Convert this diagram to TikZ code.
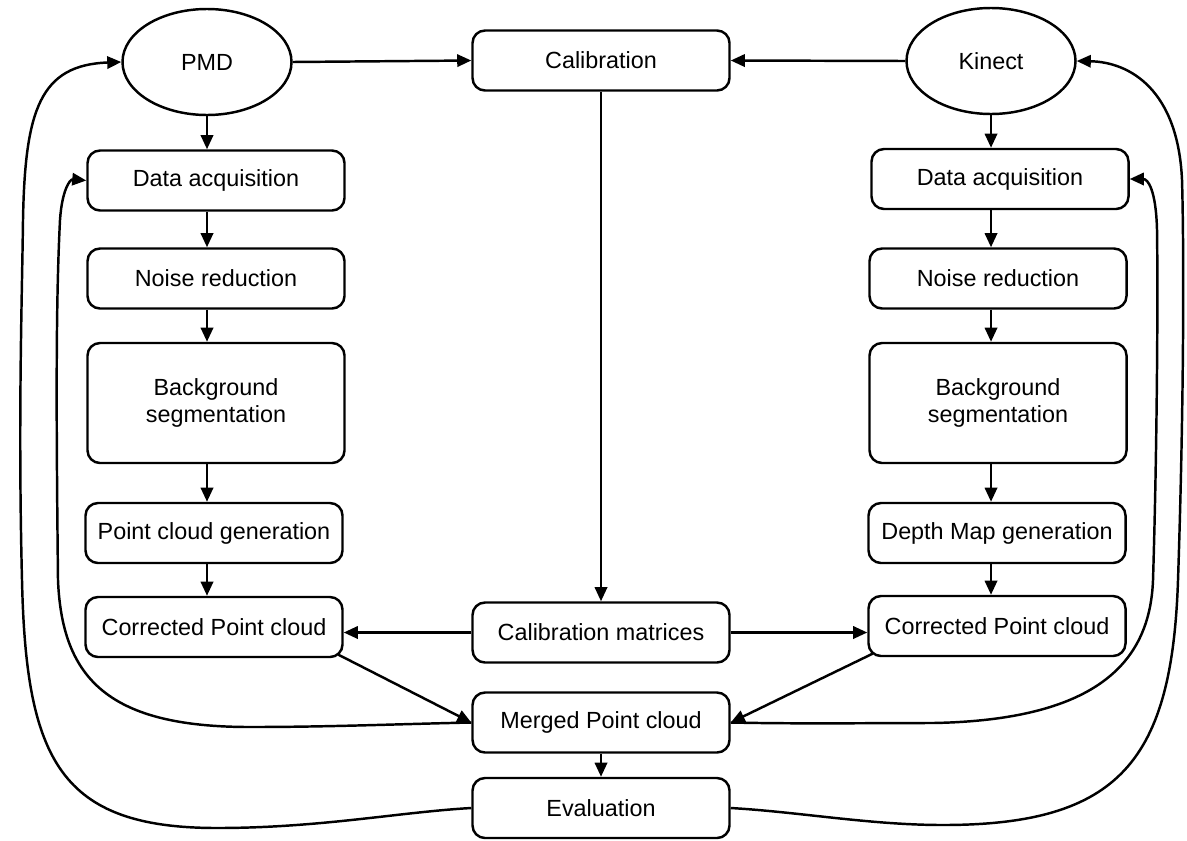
\documentclass[tikz,border=0pt]{standalone}
\usepackage{fontspec}
\setmainfont{Liberation Sans}
\usetikzlibrary{arrows.meta, calc, positioning, shapes.geometric}

\begin{document}
\begin{tikzpicture}[>={Triangle[length=8pt,width=7pt]},
    line width=1.4pt,
    every node/.style={font=\fontsize{13.3}{15.5}\selectfont},
    stage/.style={draw, rounded corners=0.25cm, minimum width=5.14cm, minimum height=1.2cm, align=center},
    tallstage/.style={stage, minimum height=2.4cm},
    sensor/.style={draw, ellipse, minimum width=3.38cm, minimum height=2.12cm}]
    \useasboundingbox (0,0) rectangle (23.74,-16.8);

    \node[sensor] (pmd) at (4.14,-1.24) {PMD};
    \node[sensor] (kinect) at (19.82,-1.22) {Kinect};
    \node[stage] (calib) at (12.02,-1.21) {Calibration};

    \node[stage] (daqL) at (4.32,-3.61) {Data acquisition};
    \node[stage] (nrL) at (4.32,-5.57) {Noise reduction};
    \node[tallstage] (bgL) at (4.32,-8.06) {Background\\segmentation};
    \node[stage] (genL) at (4.28,-10.66) {Point cloud generation};
    \node[stage] (corrL) at (4.28,-12.54) {Corrected Point cloud};

    \node[stage] (daqR) at (20,-3.58) {Data acquisition};
    \node[stage] (nrR) at (19.96,-5.57) {Noise reduction};
    \node[tallstage] (bgR) at (19.96,-8.06) {Background\\segmentation};
    \node[stage] (genR) at (19.94,-10.66) {Depth Map generation};
    \node[stage] (corrR) at (19.94,-12.52) {Corrected Point cloud};

    \node[stage] (calmat) at (12.02,-12.65) {Calibration matrices};
    \node[stage] (merged) at (12.02,-14.45) {Merged Point cloud};
    \node[stage] (eval) at (12.02,-16.16) {Evaluation};

    \draw[->] (pmd.east) -- (calib.west);
    \draw[->] (kinect.west) -- (calib.east);
    \draw[->] (calib) -- (calmat);
    \draw[->] (calmat.west) -- (calmat.west -| corrL.east);
    \draw[->] (calmat.east) -- (calmat.east -| corrR.west);

    \draw[->] (pmd.south) -- (daqL.north -| pmd);
    \draw[->] (daqL.south -| pmd) -- (nrL.north -| pmd);
    \draw[->] (nrL.south -| pmd) -- (bgL.north -| pmd);
    \draw[->] (bgL.south -| pmd) -- (genL.north -| pmd);
    \draw[->] (genL.south -| pmd) -- (corrL.north -| pmd);

    \draw[->] (kinect.south) -- (daqR.north -| kinect);
    \draw[->] (daqR.south -| kinect) -- (nrR.north -| kinect);
    \draw[->] (nrR.south -| kinect) -- (bgR.north -| kinect);
    \draw[->] (bgR.south -| kinect) -- (genR.north -| kinect);
    \draw[->] (genR.south -| kinect) -- (corrR.north -| kinect);

    \draw[->] ([xshift=-3pt,yshift=2pt]corrL.south east) -- (merged.west);
    \draw[->] ([xshift=3pt,yshift=2pt]corrR.south west) -- (merged.east);
    \draw[->] (merged) -- (eval);

    % feedback loops
    \draw[->] (merged.west) .. controls (8,-14.48) and (6.6,-14.54) .. (5,-14.54)
        .. controls (2.2,-14.54) and (1.24,-13.6) .. (1.16,-11.6)
        .. controls (1.12,-8) and (1.12,-6) .. (1.2,-4.4)
        .. controls (1.24,-3.8) and (1.4,-3.58) .. (daqL.west);
    \draw[->] (eval.west) .. controls (8,-16.24) and (6.4,-16.56) .. (4.34,-16.56)
        .. controls (1.2,-16.56) and (0.52,-15.2) .. (0.44,-11.6)
        .. controls (0.36,-8.4) and (0.44,-6) .. (0.46,-4.4)
        .. controls (0.5,-2.2) and (0.8,-1.3) .. (pmd.west);
    \draw[->] (merged.east) .. controls (16,-14.48) and (17.4,-14.46) .. (18.66,-14.46)
        .. controls (22,-14.4) and (23,-13.2) .. (23.06,-11.6)
        .. controls (23.14,-9) and (23.16,-6) .. (23.14,-4.6)
        .. controls (23.12,-3.8) and (22.96,-3.58) .. (daqR.east);
    \draw[->] (eval.east) .. controls (16,-16.24) and (17.4,-16.5) .. (18.86,-16.5)
        .. controls (22.4,-16.5) and (23.44,-15.2) .. (23.56,-11.6)
        .. controls (23.68,-8) and (23.68,-5) .. (23.64,-3.6)
        .. controls (23.56,-1.8) and (22.6,-1.24) .. (kinect.east);
\end{tikzpicture}
\end{document}
